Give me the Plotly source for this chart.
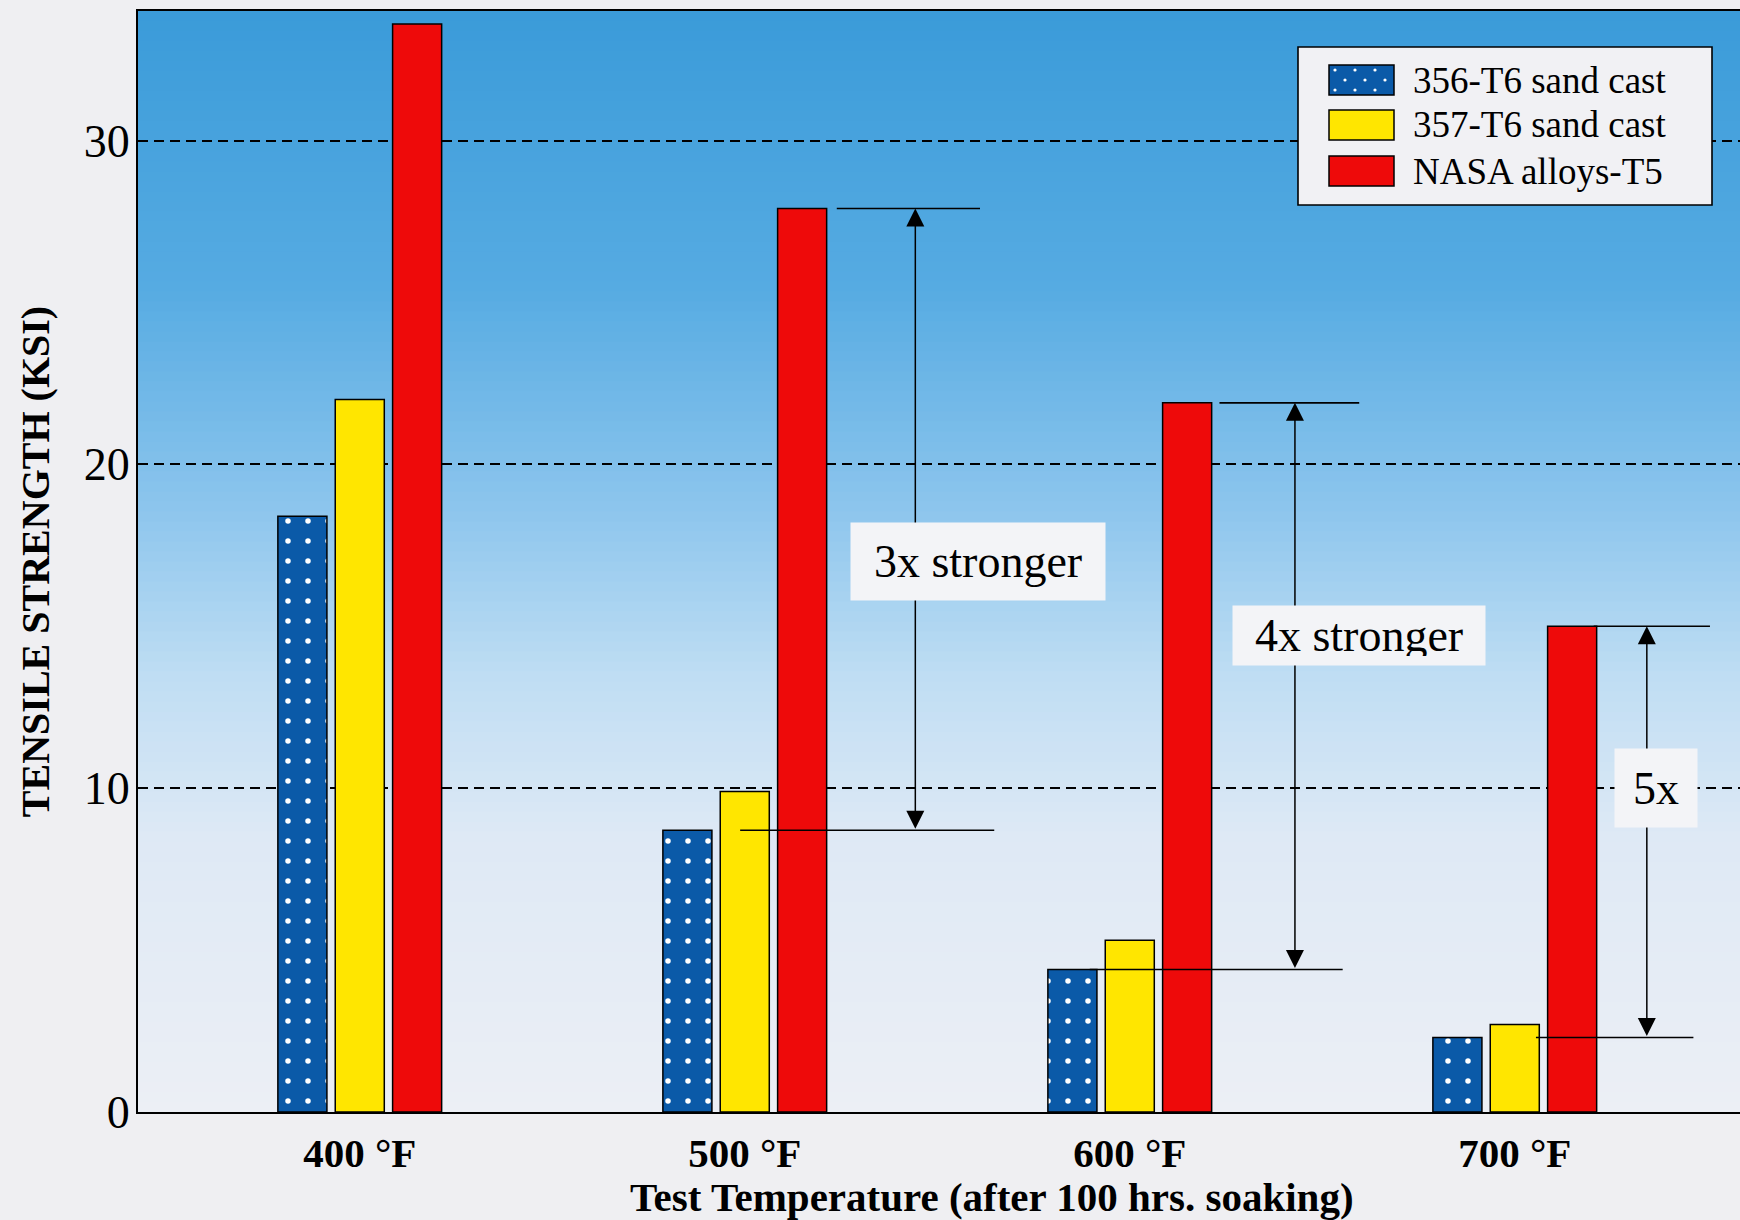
import plotly.graph_objects as go

# ---------------- data ----------------
categories = ["400 °F", "500 °F", "600 °F", "700 °F"]
series_names = ["356-T6 sand cast", "357-T6 sand cast", "NASA alloys-T5"]
alloy_356_t6 = [18.4, 8.7, 4.4, 2.3]
alloy_357_t6 = [22.0, 9.9, 5.3, 2.7]
nasa_t5 = [33.6, 27.9, 21.9, 15.0]
y_tick_values = [0, 10, 20, 30]
ratio_categories = [1, 2, 3]
ratio_labels = ["3x stronger", "4x stronger", "5x"]
x_title = "Test Temperature (after 100 hrs. soaking)"
y_title = "TENSILE STRENGTH (KSI)"

# ---------------- style ----------------
FONT = "Liberation Serif"
BLUE = "#0b5aa8"
YELLOW = "#ffe600"
RED = "#ee0a0a"
PAPER = "#efeff2"
W, H = 1740, 1220
ML, MR, MT, MB = 138, 0, 11, 108
PW, PH = W - ML - MR, H - MT - MB

xs = list(range(len(categories)))

fig = go.Figure()
outline = dict(color="black", width=1.5)
fig.add_trace(go.Bar(
    x=xs, y=alloy_356_t6, name=series_names[0],
    marker=dict(color=BLUE, line=outline,
                pattern=dict(shape=".", fgcolor="white", bgcolor=BLUE,
                             size=20, solidity=0.06, fillmode="replace")),
))
fig.add_trace(go.Bar(x=xs, y=alloy_357_t6, name=series_names[1],
                     marker=dict(color=YELLOW, line=outline)))
fig.add_trace(go.Bar(x=xs, y=nasa_t5, name=series_names[2],
                     marker=dict(color=RED, line=outline)))

shapes = []
# gradient background of plot area
stops = [(0.00, (58, 155, 217)), (0.25, (86, 171, 226)), (0.45, (140, 197, 237)),
         (0.60, (190, 221, 243)), (0.75, (222, 233, 245)), (1.00, (236, 239, 245))]


def grad(f):
    for (f0, c0), (f1, c1) in zip(stops[:-1], stops[1:]):
        if f0 <= f <= f1:
            t = (f - f0) / (f1 - f0)
            return "rgb(%d,%d,%d)" % tuple(round(a + (b - a) * t) for a, b in zip(c0, c1))
    return "rgb(%d,%d,%d)" % stops[-1][1]


N = 110
for k in range(N):
    ftop = k / N
    shapes.append(dict(type="rect", xref="paper", yref="paper", x0=0, x1=1,
                       y0=1 - (k + 1) / N - 0.001, y1=1 - ftop,
                       fillcolor=grad((k + 0.5) / N), line=dict(width=0), layer="below"))

# ratio markers: horizontal reference lines and double arrows
arrow_off = [0.443, 0.429, 0.343]
top_line = [(0.239, 0.611), (0.233, 0.596), (0.205, 0.507)]
bot_line = [(-0.012, 0.648), (-0.104, 0.553), (0.055, 0.464)]
label_off = [0.605, 0.596, 0.366]
label_y = [17.0, 14.7, 10.0]
label_w = [236, 234, 64]
label_h = [59, 41, 60]

annotations = []
for k, ci in enumerate(ratio_categories):
    top = nasa_t5[ci]
    bot = alloy_356_t6[ci]
    shapes.append(dict(type="line", xref="x", yref="y", x0=ci + top_line[k][0],
                       x1=ci + top_line[k][1], y0=top, y1=top,
                       line=dict(color="black", width=1.6)))
    shapes.append(dict(type="line", xref="x", yref="y", x0=ci + bot_line[k][0],
                       x1=ci + bot_line[k][1], y0=bot, y1=bot,
                       line=dict(color="black", width=1.6)))
    ax = ci + arrow_off[k]
    annotations.append(dict(x=ax, y=top, ax=ax, ay=bot, xref="x", yref="y",
                            axref="x", ayref="y", text="", showarrow=True,
                            arrowhead=2, startarrowhead=2, arrowside="end+start",
                            arrowsize=2.4, startarrowsize=2.4, arrowwidth=1.5,
                            arrowcolor="black", standoff=0, startstandoff=0))
for k, ci in enumerate(ratio_categories):
    annotations.append(dict(x=ci + label_off[k], y=label_y[k], xref="x", yref="y",
                            text=ratio_labels[k], showarrow=False,
                            font=dict(family=FONT, size=46, color="black"),
                            bgcolor="#f3f4f7", borderpad=9,
                            width=label_w[k], height=label_h[k]))


def px_x(p):
    return (p - ML) / PW


def px_y(p):
    return (MT + PH - p) / PH


# x-axis title placed as text under the tick labels
annotations.append(dict(x=0.5 * (px_x(615) + px_x(1368)), y=px_y(1197),
                        xref="paper", yref="paper", xanchor="center", yanchor="middle",
                        text=x_title, showarrow=False,
                        font=dict(family=FONT, size=41, color="black", weight="bold")))

# custom legend
shapes.append(dict(type="rect", xref="paper", yref="paper",
                   x0=px_x(1298), x1=px_x(1712), y0=px_y(205), y1=px_y(47),
                   fillcolor="#f1f1f4", line=dict(color="black", width=1.6)))
row_centers = [80, 125, 171]
sw_x0, sw_x1 = 1329, 1394
sw_colors = [BLUE, YELLOW, RED]
for k, rc in enumerate(row_centers):
    shapes.append(dict(type="rect", xref="paper", yref="paper",
                       x0=px_x(sw_x0), x1=px_x(sw_x1), y0=px_y(rc + 15), y1=px_y(rc - 15),
                       fillcolor=sw_colors[k], line=dict(color="black", width=1.5)))
    annotations.append(dict(x=px_x(1411), y=px_y(rc), xref="paper", yref="paper",
                            xanchor="left", yanchor="middle", text=series_names[k],
                            showarrow=False, font=dict(family=FONT, size=37, color="black")))
# white dots on the blue swatch
for r in range(3):
    dy = row_centers[0] - 10 + r * 10
    dx = sw_x0 + (6 if r % 2 == 0 else 16)
    while dx < sw_x1 - 3:
        shapes.append(dict(type="circle", xref="paper", yref="paper",
                           x0=px_x(dx - 1.6), x1=px_x(dx + 1.6),
                           y0=px_y(dy + 1.6), y1=px_y(dy - 1.6),
                           fillcolor="white", line=dict(width=0)))
        dx += 20

fig.update_layout(
    width=W, height=H,
    margin=dict(l=ML, r=MR, t=MT, b=MB, autoexpand=False),
    paper_bgcolor=PAPER, plot_bgcolor="#e9eef5",
    barmode="group", bargap=0.553, bargroupgap=0.145,
    showlegend=False,
    shapes=shapes, annotations=annotations,
    font=dict(family=FONT, color="black"),
)
fig.update_xaxes(
    range=[-0.576, 3.585], tickvals=xs, ticktext=categories,
    showgrid=False, zeroline=False, showline=True, linecolor="black", linewidth=2,
    mirror=True, ticks="", ticklabelstandoff=4,
    tickfont=dict(family=FONT, size=41, color="black", weight="bold"),
)
fig.update_yaxes(
    range=[0, 34], tickvals=y_tick_values, ticktext=[str(v) for v in y_tick_values],
    showgrid=True, gridcolor="black", gridwidth=1.6, griddash="10px,6px",
    zeroline=False, showline=True, linecolor="black", linewidth=2, mirror=False,
    ticks="", ticklabelstandoff=-3,
    tickfont=dict(family=FONT, size=46, color="black"),
    title=dict(text=y_title, standoff=22,
               font=dict(family=FONT, size=40, color="black", weight="bold")),
)

fig.write_html("out.html", config={"displayModeBar": False},
               post_script="document.body.style.margin='0';")
